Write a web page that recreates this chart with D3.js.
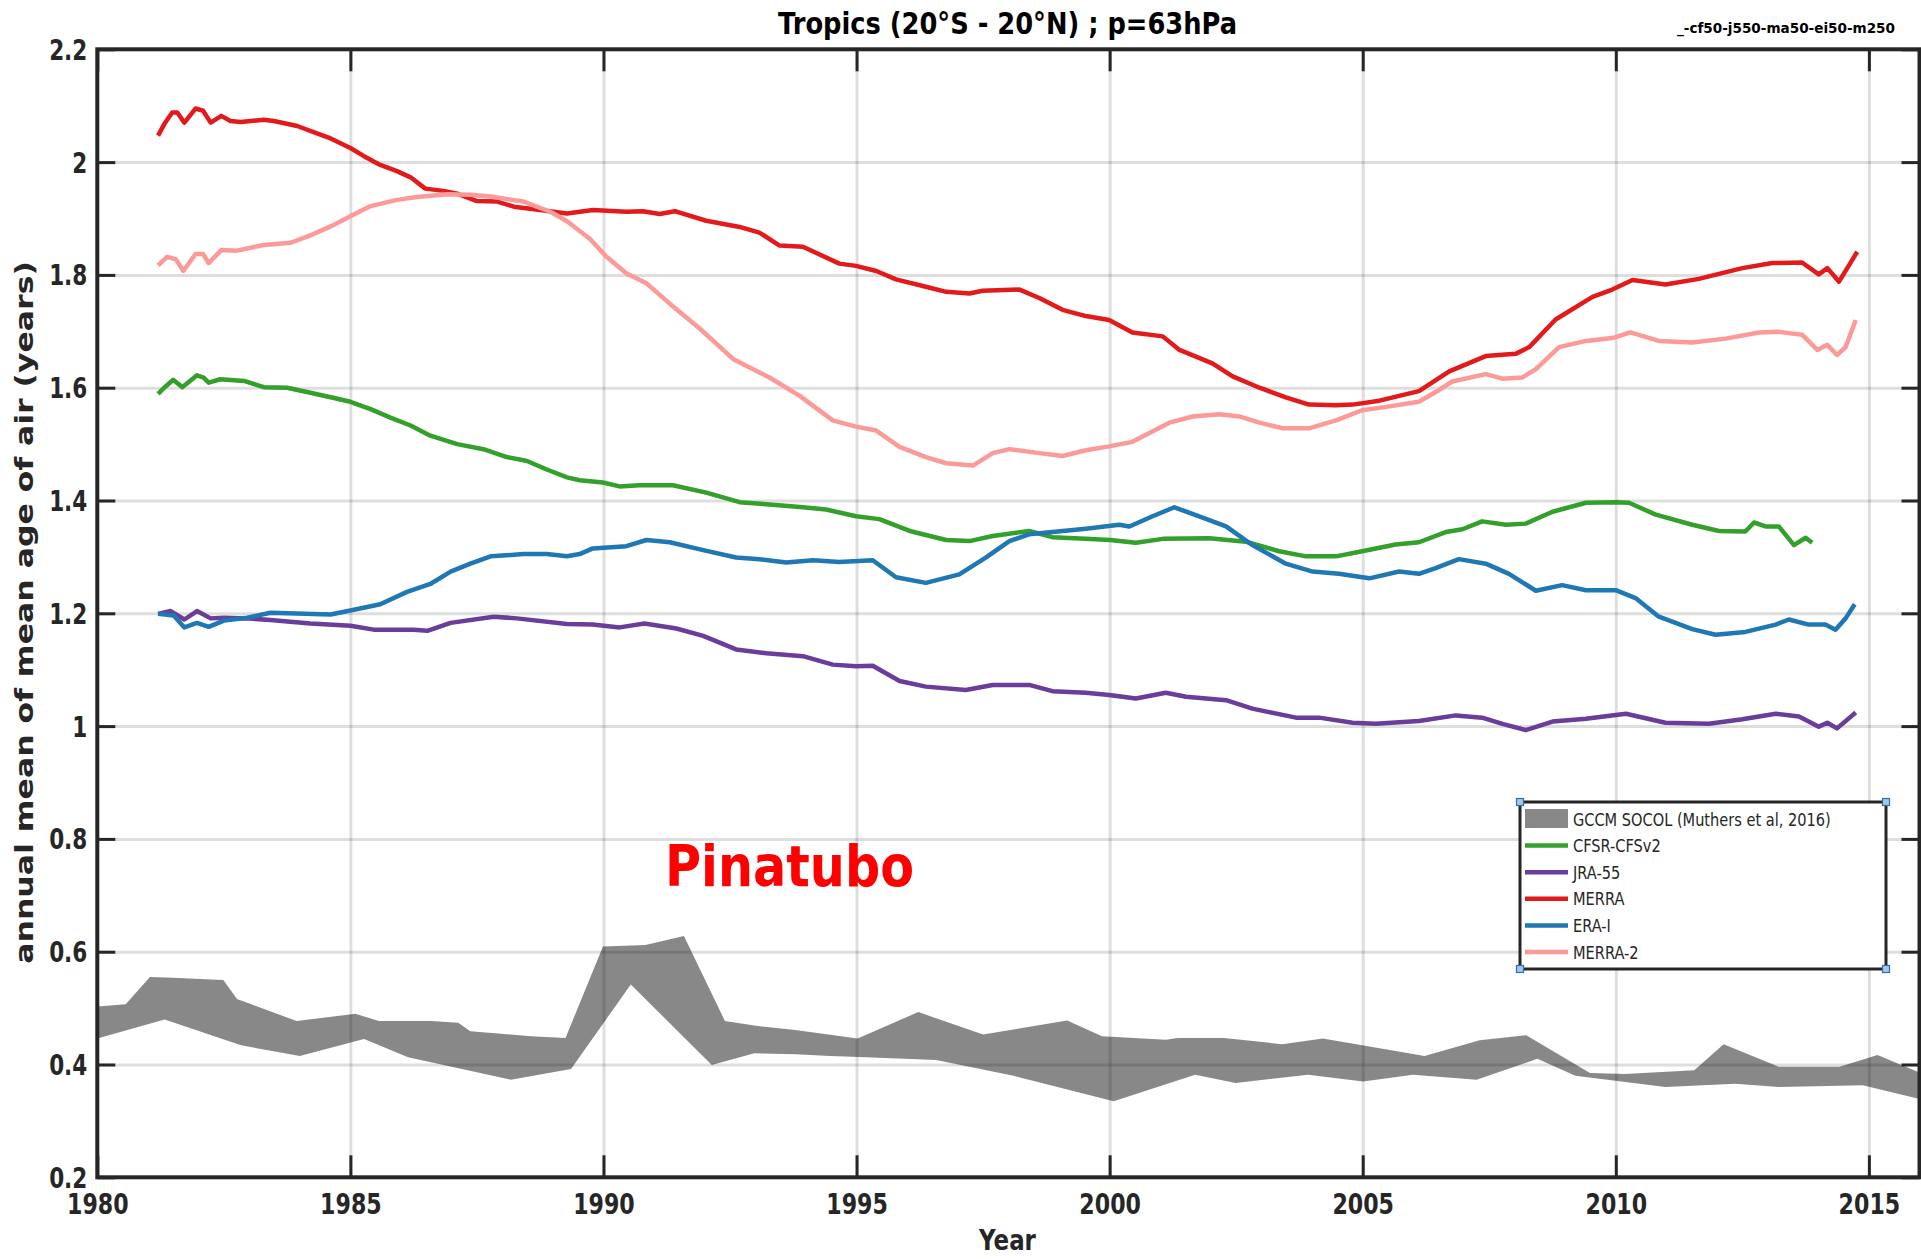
<!DOCTYPE html>
<html>
<head>
<meta charset="utf-8">
<script src="https://cdn.jsdelivr.net/npm/d3@7"></script>
<style>
  html, body { margin: 0; padding: 0; background: #ffffff; }
  svg { display: block; }
  text { font-family: "DejaVu Sans", sans-serif; }
</style>
</head>
<body>
<svg id="chart" width="1921" height="1259"></svg>
<script>
// ---- Axis ticks ----
const yearTicks = [1980, 1985, 1990, 1995, 2000, 2005, 2010, 2015];
const yearLabels = ["1980", "1985", "1990", "1995", "2000", "2005", "2010", "2015"];
const ageTicks = [0.2, 0.4, 0.6, 0.8, 1, 1.2, 1.4, 1.6, 1.8, 2, 2.2];
const ageLabels = ["0.2", "0.4", "0.6", "0.8", "1", "1.2", "1.4", "1.6", "1.8", "2", "2.2"];

// ---- Reanalysis series: annual mean of mean age of air (years) ----
const cfsrYears = [1981.20, 1981.32, 1981.50, 1981.68, 1981.97, 1982.10, 1982.20, 1982.43, 1982.90, 1983.29,
  1983.75, 1984.21, 1984.61, 1985.00, 1985.40, 1985.79, 1986.19, 1986.58, 1987.11, 1987.63, 1988.09, 1988.49,
  1988.88, 1989.28, 1989.53, 1989.99, 1990.32, 1990.71, 1991.37, 1992.03, 1992.69, 1993.28, 1993.94, 1994.40,
  1994.99, 1995.45, 1996.05, 1996.77, 1997.23, 1997.69, 1998.41, 1998.87, 1999.53, 2000.01, 2000.52, 2001.05,
  2001.97, 2002.69, 2003.35, 2003.88, 2004.47, 2004.99, 2005.65, 2006.11, 2006.64, 2006.97, 2007.36, 2007.83,
  2008.22, 2008.75, 2009.41, 2010.00, 2010.26, 2010.79, 2011.51, 2012.04, 2012.56, 2012.73, 2012.96, 2013.22,
  2013.52, 2013.75, 2013.88];
const cfsrValues = [1.589, 1.600, 1.614, 1.601, 1.622, 1.618, 1.609, 1.615, 1.612, 1.601,
  1.600, 1.591, 1.583, 1.575, 1.562, 1.547, 1.533, 1.515, 1.500, 1.491, 1.477, 1.470,
  1.455, 1.441, 1.436, 1.432, 1.425, 1.427, 1.427, 1.414, 1.397, 1.393, 1.388, 1.384,
  1.372, 1.367, 1.346, 1.330, 1.328, 1.337, 1.346, 1.335, 1.332, 1.330, 1.325, 1.332,
  1.333, 1.327, 1.310, 1.301, 1.301, 1.310, 1.322, 1.326, 1.344, 1.349, 1.363, 1.357,
  1.359, 1.380, 1.396, 1.397, 1.396, 1.375, 1.357, 1.346, 1.345, 1.361, 1.354, 1.354,
  1.321, 1.334, 1.325];

const jraYears = [1981.20, 1981.45, 1981.72, 1981.97, 1982.24, 1982.50, 1982.96, 1983.42, 1984.21, 1985.00,
  1985.46, 1986.25, 1986.52, 1986.98, 1987.83, 1988.29, 1989.28, 1989.79, 1990.32, 1990.81, 1991.44, 1991.97,
  1992.62, 1993.22, 1993.94, 1994.53, 1994.99, 1995.32, 1995.85, 1996.37, 1997.16, 1997.69, 1998.41, 1998.87,
  1999.53, 1999.99, 2000.52, 2001.11, 2001.51, 2002.30, 2002.82, 2003.68, 2004.14, 2004.80, 2005.26, 2006.11,
  2006.84, 2007.36, 2007.76, 2008.22, 2008.75, 2009.41, 2010.20, 2010.98, 2011.84, 2012.50, 2013.16, 2013.62,
  2014.01, 2014.18, 2014.37, 2014.74];
const jraValues = [1.199, 1.204, 1.189, 1.204, 1.191, 1.192, 1.191, 1.188, 1.182, 1.178,
  1.171, 1.171, 1.169, 1.183, 1.194, 1.191, 1.181, 1.180, 1.175, 1.182, 1.173, 1.160,
  1.136, 1.129, 1.124, 1.109, 1.106, 1.107, 1.080, 1.070, 1.064, 1.073, 1.073, 1.062,
  1.059, 1.055, 1.049, 1.059, 1.052, 1.046, 1.031, 1.015, 1.015, 1.006, 1.004, 1.009,
  1.019, 1.015, 1.004, 0.993, 1.008, 1.013, 1.022, 1.006, 1.004, 1.012, 1.022, 1.017,
  0.999, 1.006, 0.996, 1.024];

const merraYears = [1981.20, 1981.32, 1981.48, 1981.58, 1981.72, 1981.94, 1982.09, 1982.24, 1982.45, 1982.63,
  1982.83, 1983.29, 1983.49, 1983.95, 1984.34, 1984.61, 1985.00, 1985.26, 1985.59, 1985.92, 1986.19, 1986.48,
  1986.84, 1987.11, 1987.50, 1987.90, 1988.23, 1988.75, 1989.28, 1989.79, 1990.45, 1990.78, 1991.11, 1991.41,
  1992.03, 1992.69, 1993.08, 1993.48, 1993.94, 1994.66, 1994.99, 1995.39, 1995.78, 1996.37, 1996.77, 1997.23,
  1997.49, 1998.22, 1998.61, 1999.07, 1999.53, 1999.99, 2000.45, 2001.05, 2001.38, 2002.03, 2002.43, 2002.96,
  2003.48, 2003.94, 2004.47, 2004.80, 2005.33, 2006.11, 2006.71, 2007.43, 2008.02, 2008.29, 2008.81, 2009.54,
  2009.93, 2010.33, 2010.98, 2011.64, 2012.50, 2013.09, 2013.68, 2014.01, 2014.18, 2014.41, 2014.77];
const merraValues = [2.047, 2.067, 2.088, 2.088, 2.070, 2.095, 2.091, 2.070, 2.082, 2.073,
  2.071, 2.075, 2.073, 2.064, 2.051, 2.042, 2.025, 2.011, 1.995, 1.984, 1.973, 1.953,
  1.949, 1.944, 1.931, 1.930, 1.921, 1.915, 1.909, 1.915, 1.912, 1.913, 1.908, 1.913,
  1.896, 1.885, 1.875, 1.852, 1.850, 1.820, 1.816, 1.807, 1.792, 1.779, 1.770, 1.767,
  1.772, 1.774, 1.759, 1.738, 1.727, 1.720, 1.698, 1.691, 1.667, 1.643, 1.620, 1.600,
  1.583, 1.570, 1.569, 1.570, 1.577, 1.594, 1.629, 1.656, 1.660, 1.672, 1.721, 1.761,
  1.774, 1.791, 1.783, 1.793, 1.812, 1.821, 1.822, 1.801, 1.812, 1.788, 1.841];

const eraiYears = [1981.20, 1981.51, 1981.72, 1981.97, 1982.20, 1982.50, 1982.96, 1983.42, 1984.61, 1985.00,
  1985.59, 1986.12, 1986.58, 1986.98, 1987.37, 1987.77, 1988.42, 1988.88, 1989.28, 1989.53, 1989.79, 1990.45,
  1990.85, 1991.31, 1991.97, 1992.62, 1993.08, 1993.61, 1994.14, 1994.66, 1995.32, 1995.78, 1996.37, 1997.03,
  1997.56, 1998.02, 1998.41, 1998.87, 1999.53, 2000.19, 2000.39, 2000.85, 2001.28, 2001.77, 2002.30, 2002.82,
  2003.48, 2004.01, 2004.53, 2005.13, 2005.72, 2006.11, 2006.44, 2006.90, 2007.43, 2007.89, 2008.42, 2008.94,
  2009.41, 2010.00, 2010.39, 2010.85, 2011.51, 2011.97, 2012.56, 2013.16, 2013.42, 2013.81, 2014.14, 2014.34,
  2014.54, 2014.72];
const eraiValues = [1.199, 1.196, 1.175, 1.183, 1.176, 1.187, 1.192, 1.201, 1.198, 1.205,
  1.216, 1.238, 1.252, 1.274, 1.288, 1.301, 1.305, 1.305, 1.301, 1.305, 1.315, 1.319,
  1.330, 1.326, 1.312, 1.299, 1.296, 1.290, 1.294, 1.291, 1.294, 1.264, 1.254, 1.269,
  1.299, 1.328, 1.340, 1.344, 1.350, 1.357, 1.354, 1.372, 1.388, 1.372, 1.354, 1.321,
  1.288, 1.274, 1.270, 1.262, 1.274, 1.270, 1.280, 1.296, 1.288, 1.270, 1.240, 1.250,
  1.241, 1.241, 1.227, 1.194, 1.172, 1.162, 1.167, 1.180, 1.189, 1.180, 1.180, 1.171,
  1.191, 1.216];

const merra2Years = [1981.20, 1981.38, 1981.55, 1981.70, 1981.94, 1982.09, 1982.20, 1982.45, 1982.76, 1983.29,
  1983.82, 1984.21, 1984.61, 1985.00, 1985.40, 1985.92, 1986.32, 1986.91, 1987.37, 1987.77, 1988.42, 1988.95,
  1989.28, 1989.73, 1990.06, 1990.45, 1990.85, 1991.31, 1991.90, 1992.56, 1993.28, 1993.87, 1994.53, 1994.99,
  1995.39, 1995.85, 1996.37, 1996.77, 1997.30, 1997.69, 1998.02, 1998.61, 1999.07, 1999.53, 1999.99, 2000.45,
  2001.18, 2001.64, 2002.17, 2002.56, 2002.96, 2003.42, 2003.94, 2004.47, 2004.99, 2005.46, 2006.11, 2006.51,
  2006.77, 2007.43, 2007.76, 2008.15, 2008.42, 2008.88, 2009.41, 2009.93, 2010.29, 2010.85, 2011.51, 2012.17,
  2012.83, 2013.22, 2013.68, 2013.98, 2014.18, 2014.37, 2014.54, 2014.74];
const merra2Values = [1.817, 1.832, 1.828, 1.807, 1.837, 1.837, 1.821, 1.844, 1.843, 1.853,
  1.857, 1.870, 1.886, 1.904, 1.922, 1.933, 1.938, 1.943, 1.942, 1.939, 1.930, 1.912,
  1.895, 1.864, 1.832, 1.803, 1.785, 1.749, 1.705, 1.651, 1.618, 1.586, 1.542, 1.531,
  1.524, 1.495, 1.477, 1.466, 1.462, 1.484, 1.491, 1.484, 1.479, 1.489, 1.496, 1.504,
  1.538, 1.549, 1.553, 1.549, 1.538, 1.528, 1.528, 1.542, 1.560, 1.566, 1.575, 1.596,
  1.611, 1.624, 1.616, 1.618, 1.633, 1.672, 1.683, 1.688, 1.698, 1.683, 1.680, 1.687,
  1.698, 1.699, 1.694, 1.667, 1.676, 1.658, 1.672, 1.720];

// ---- GCCM SOCOL range (upper and lower edges of the shaded band) ----
const socolUpperYears = [1980.00, 1980.56, 1981.04, 1981.50, 1982.14, 1982.49, 1982.76, 1983.94, 1985.10, 1985.56,
  1986.60, 1987.13, 1987.37, 1988.57, 1989.25, 1989.99, 1990.83, 1991.59, 1992.40, 1992.98, 1993.79, 1995.02,
  1996.22, 1997.50, 1998.10, 1999.16, 1999.85, 2001.11, 2001.34, 2002.26, 2003.41, 2004.21, 2004.99, 2006.22,
  2007.31, 2008.23, 2009.49, 2010.18, 2011.55, 2012.13, 2013.22, 2014.42, 2015.17, 2016.00];
const socolUpperValues = [0.503, 0.507, 0.555, 0.554, 0.551, 0.550, 0.516, 0.477, 0.490, 0.477,
  0.477, 0.474, 0.459, 0.450, 0.447, 0.609, 0.612, 0.628, 0.477, 0.469, 0.461, 0.446,
  0.493, 0.453, 0.462, 0.478, 0.450, 0.444, 0.447, 0.447, 0.436, 0.446, 0.434, 0.415,
  0.443, 0.452, 0.385, 0.383, 0.390, 0.436, 0.396, 0.396, 0.417, 0.386];
const socolLowerYears = [1980.00, 1981.33, 1982.84, 1984.00, 1985.27, 1986.14, 1988.17, 1989.36, 1990.54, 1992.14,
  1992.98, 1993.79, 1994.48, 1995.18, 1996.57, 1998.10, 2000.08, 2001.69, 2002.49, 2003.92, 2005.01, 2005.99,
  2007.25, 2008.45, 2009.20, 2010.98, 2012.36, 2013.22, 2014.88, 2016.00];
const socolLowerValues = [0.446, 0.480, 0.434, 0.415, 0.445, 0.413, 0.373, 0.392, 0.542, 0.399,
  0.420, 0.418, 0.415, 0.413, 0.408, 0.380, 0.335, 0.382, 0.367, 0.382, 0.370, 0.382,
  0.373, 0.410, 0.380, 0.360, 0.366, 0.360, 0.363, 0.339];

// ---- Legend ----
const legendNames = ["GCCM SOCOL (Muthers et al, 2016)", "CFSR-CFSv2", "JRA-55", "MERRA", "ERA-I", "MERRA-2"];
const seriesColors = { cfsr: "#33a02c", jra: "#6a3d9a", merra: "#e31a1c", erai: "#1f78b4", merra2: "#fb9a99" };

// ---- Layout ----
const plot = { left: 97.3, right: 1919.5, top: 49.3, bottom: 1177.3 };
const axisColor = "#262626";
const squeeze = 0.79;

const x = d3.scaleLinear().domain([1980, 2016]).range([plot.left, plot.right]);
const y = d3.scaleLinear().domain([0.2, 2.2]).range([plot.bottom, plot.top]);

const svg = d3.select("#chart");
svg.append("rect").attr("width", 1921).attr("height", 1259).attr("fill", "#fff");

// Grid
svg.append("g")
  .attr("transform", `translate(0,${plot.bottom})`)
  .call(d3.axisBottom(x).tickValues(yearTicks.slice(1)).tickSize(-(plot.bottom - plot.top)).tickFormat(""))
  .call(g => {
    g.select(".domain").remove();
    g.selectAll(".tick line").attr("stroke", "#000").attr("stroke-opacity", 0.13).attr("stroke-width", 3);
  });
svg.append("g")
  .attr("transform", `translate(${plot.left},0)`)
  .call(d3.axisLeft(y).tickValues(ageTicks.slice(1, -1)).tickSize(-(plot.right - plot.left)).tickFormat(""))
  .call(g => {
    g.select(".domain").remove();
    g.selectAll(".tick line").attr("stroke", "#000").attr("stroke-opacity", 0.13).attr("stroke-width", 3);
  });

// SOCOL band (semi-transparent so the grid shows through)
const upperPts = d3.zip(socolUpperYears, socolUpperValues);
const lowerPts = d3.zip(socolLowerYears, socolLowerValues).reverse();
const polyLine = d3.line().x(d => x(d[0])).y(d => y(d[1]));
svg.append("path")
  .attr("d", polyLine(upperPts.concat(lowerPts)) + "Z")
  .attr("fill", "#000")
  .attr("fill-opacity", 0.466);

// Reanalysis lines
const series = [
  { years: cfsrYears, values: cfsrValues, color: seriesColors.cfsr },
  { years: jraYears, values: jraValues, color: seriesColors.jra },
  { years: merraYears, values: merraValues, color: seriesColors.merra },
  { years: eraiYears, values: eraiValues, color: seriesColors.erai },
  { years: merra2Years, values: merra2Values, color: seriesColors.merra2 }
];
const line = d3.line().x(d => x(d[0])).y(d => y(d[1]));
series.forEach(s => {
  svg.append("path")
    .datum(d3.zip(s.years, s.values))
    .attr("d", line)
    .attr("fill", "none")
    .attr("stroke", s.color)
    .attr("stroke-width", 4.5)
    .attr("stroke-linejoin", "round")
    .attr("stroke-linecap", "butt");
});

// Axes (ticks point inward, on all four sides)
function styleAxis(g) {
  g.attr("color", axisColor).attr("font-family", "DejaVu Sans").attr("font-size", 28).attr("font-weight", "bold");
  g.select(".domain").remove();
  g.selectAll(".tick line").attr("stroke-width", 3);
}
svg.append("g")
  .attr("transform", `translate(0,${plot.bottom})`)
  .call(d3.axisBottom(x).tickValues(yearTicks).tickFormat(d => yearLabels[yearTicks.indexOf(d)]).tickSizeInner(-22).tickSizeOuter(0))
  .call(styleAxis)
  .call(g => g.selectAll(".tick text")
    .attr("y", null).attr("dy", null)
    .attr("transform", `translate(0,37) scale(${squeeze},1)`));
svg.append("g")
  .attr("transform", `translate(0,${plot.top})`)
  .call(d3.axisTop(x).tickValues(yearTicks).tickFormat("").tickSizeInner(-22).tickSizeOuter(0))
  .call(styleAxis);
svg.append("g")
  .attr("transform", `translate(${plot.left},0)`)
  .call(d3.axisLeft(y).tickValues(ageTicks).tickFormat(d => ageLabels[ageTicks.indexOf(d)]).tickSizeInner(-18).tickSizeOuter(0))
  .call(styleAxis)
  .call(g => g.selectAll(".tick text")
    .attr("x", null).attr("dy", "0.36em")
    .attr("transform", `translate(-10,0) scale(0.77,1)`));
svg.append("g")
  .attr("transform", `translate(${plot.right},0)`)
  .call(d3.axisRight(y).tickValues(ageTicks).tickFormat("").tickSizeInner(-18).tickSizeOuter(0))
  .call(styleAxis);

// Frame
svg.append("rect")
  .attr("x", plot.left).attr("y", plot.top)
  .attr("width", plot.right - plot.left).attr("height", plot.bottom - plot.top)
  .attr("fill", "none").attr("stroke", axisColor).attr("stroke-width", 4);

// Titles and axis labels
svg.append("text")
  .attr("x", 1007.5).attr("y", 34)
  .attr("text-anchor", "middle")
  .attr("font-size", 31).attr("font-weight", "bold").attr("fill", "#000")
  .attr("textLength", 459).attr("lengthAdjust", "spacingAndGlyphs")
  .text("Tropics (20°S - 20°N) ; p=63hPa");
svg.append("text")
  .attr("x", 1677).attr("y", 33)
  .attr("font-size", 14).attr("font-weight", "bold").attr("fill", "#000")
  .attr("textLength", 218).attr("lengthAdjust", "spacingAndGlyphs")
  .text("_-cf50-j550-ma50-ei50-m250");
svg.append("text")
  .attr("transform", "translate(33,612.5) scale(0.8,1) rotate(-90)")
  .attr("text-anchor", "middle")
  .attr("font-size", 31.5).attr("font-weight", "bold").attr("fill", axisColor)
  .text("annual mean of mean age of air (years)");
svg.append("text")
  .attr("transform", `translate(1007.5,1250) scale(${squeeze},1)`)
  .attr("text-anchor", "middle")
  .attr("font-size", 29).attr("font-weight", "bold").attr("fill", axisColor)
  .text("Year");

// Volcanic eruption annotation
svg.append("text")
  .attr("x", 665).attr("y", 886)
  .attr("font-family", "Lato, 'Open Sans', sans-serif")
  .attr("font-size", 57).attr("font-weight", "bold").attr("fill", "#ff0000")
  .attr("textLength", 249).attr("lengthAdjust", "spacingAndGlyphs")
  .text("Pinatubo");

// Legend
const lg = { x: 1520, y: 802, w: 366, h: 167, row0: 819, rowStep: 26.6 };
const legend = svg.append("g");
legend.append("rect")
  .attr("x", lg.x).attr("y", lg.y).attr("width", lg.w).attr("height", lg.h)
  .attr("fill", "#fff").attr("stroke", axisColor).attr("stroke-width", 3);
const swatchColors = [null, seriesColors.cfsr, seriesColors.jra, seriesColors.merra, seriesColors.erai, seriesColors.merra2];
legendNames.forEach((name, i) => {
  const cy = lg.row0 + i * lg.rowStep;
  if (i === 0) {
    legend.append("rect")
      .attr("x", lg.x + 5).attr("y", cy - 10).attr("width", 43).attr("height", 19)
      .attr("fill", "#000").attr("fill-opacity", 0.466);
  } else {
    legend.append("line")
      .attr("x1", lg.x + 5).attr("x2", lg.x + 48).attr("y1", cy).attr("y2", cy)
      .attr("stroke", swatchColors[i]).attr("stroke-width", 4.5);
  }
  legend.append("text")
    .attr("transform", `translate(${lg.x + 53},${cy + 6.5}) scale(0.81,1)`)
    .attr("font-size", 18).attr("fill", axisColor)
    .text(name);
});
// selection handles on the legend corners
[[lg.x, lg.y], [lg.x + lg.w, lg.y], [lg.x, lg.y + lg.h], [lg.x + lg.w, lg.y + lg.h]].forEach(([hx, hy]) => {
  legend.append("rect")
    .attr("x", hx - 3.5).attr("y", hy - 3.5).attr("width", 7).attr("height", 7)
    .attr("fill", "#a9c6e2").attr("stroke", "#2f6fad").attr("stroke-width", 1.2);
});
</script>
</body>
</html>
